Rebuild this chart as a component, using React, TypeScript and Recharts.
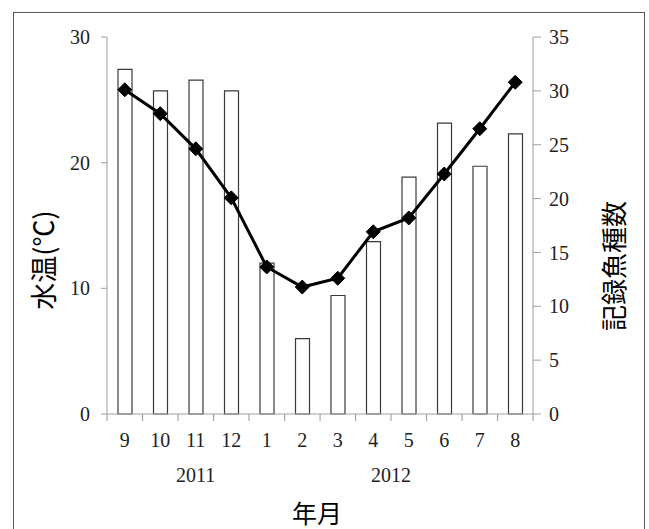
import React from 'react';
import { ComposedChart, Bar, Line, XAxis, YAxis } from 'recharts';

const months = ['9', '10', '11', '12', '1', '2', '3', '4', '5', '6', '7', '8'];
const speciesCount = [32, 30, 31, 30, 14, 7, 11, 16, 22, 27, 23, 26];
const waterTemp = [25.8, 23.9, 21.1, 17.2, 11.7, 10.1, 10.8, 14.5, 15.6, 19.1, 22.7, 26.4];
const tempTicks = [0, 10, 20, 30];
const speciesTicks = [0, 5, 10, 15, 20, 25, 30, 35];
const yearLabels = ['2011', '2012'];
// year label centres, in category units from the left edge of the axis
const yearPositions = [2.5, 8];

const data = months.map((m, i) => ({ month: m, species: speciesCount[i], temp: waterTemp[i] }));

const CHART_W = 649;
const CHART_H = 529;
const LEFT_W = 107;
const RIGHT_W = 116;
const PLOT_W = CHART_W - LEFT_W - RIGHT_W;
const HALF_BAND = PLOT_W / months.length / 2;

const AXIS = '#a0a0a0';
const TICK_FONT = { fontFamily: 'Liberation Serif', fontSize: 20, fill: '#222' };
const CJK = '"Noto Sans CJK JP", sans-serif';

const MonthTick = (props: any) => {
  const { x, y, payload, index } = props;
  const half = HALF_BAND;
  const i = typeof index === 'number' ? index : months.indexOf(String(payload?.value));
  const left = Number(x) - half;
  const right = Number(x) + half;
  const yy = Number(y);
  const years: React.ReactNode[] = [];
  yearPositions.forEach((pos, k) => {
    const idx = Math.floor(pos - 0.5);
    if (idx === i) {
      const cx = Number(x) + (pos - (idx + 0.5)) * 2 * half;
      years.push(
        <text key={`y${k}`} x={cx} y={yy + 68} textAnchor="middle" {...TICK_FONT}>
          {yearLabels[k]}
        </text>
      );
    }
  });
  return (
    <g>
      <rect x={left - 0.5} y={yy} width={1.1} height={7} fill={AXIS} />
      {i === months.length - 1 && <rect x={right - 0.5} y={yy} width={1.1} height={7} fill={AXIS} />}
      <text x={x} y={yy + 33} textAnchor="middle" {...TICK_FONT}>
        {payload.value}
      </text>
      {years}
    </g>
  );
};

const Diamond = (props: any) => {
  const { cx, cy, index } = props;
  if (cx == null || cy == null) return null;
  const r = 7;
  return (
    <path
      key={`d-${index}`}
      d={`M${cx},${cy - r}L${cx + r},${cy}L${cx},${cy + r}L${cx - r},${cy}Z`}
      fill="#000"
      stroke="#000"
    />
  );
};

export default function App() {
  return (
    <div style={{ position: 'fixed', left: 0, top: 0, width: CHART_W, height: CHART_H, overflow: 'hidden', background: '#fff' }}>
      <div
        style={{
          position: 'absolute', left: 13, top: 12, width: 632, height: 600,
          border: '1.5px solid #595959', boxSizing: 'border-box',
        }}
      />
      <div style={{ position: 'absolute', left: 0, top: 0 }}>
        <ComposedChart width={CHART_W} height={CHART_H} data={data} margin={{ top: 37, right: 0, bottom: 0, left: 0 }}>
          <XAxis
            xAxisId="m"
            dataKey="month"
            height={115}
            tickSize={0}
            tickMargin={0}
            axisLine={{ stroke: AXIS }}
            tickLine={false}
            tick={(p: any) => <MonthTick {...p} />}
            interval={0}
          />
          <YAxis
            yAxisId="t"
            orientation="left"
            width={LEFT_W}
            domain={[0, 30]}
            ticks={tempTicks}
            tickSize={6}
            tickMargin={11}
            axisLine={{ stroke: AXIS }}
            tickLine={{ stroke: AXIS }}
            tick={TICK_FONT}
          />
          <YAxis
            yAxisId="s"
            orientation="right"
            width={RIGHT_W}
            domain={[0, 35]}
            ticks={speciesTicks}
            tickSize={8}
            tickMargin={8}
            axisLine={{ stroke: AXIS }}
            tickLine={{ stroke: AXIS }}
            tick={{ ...TICK_FONT, textAnchor: 'start' }}
          />
          <Bar
            xAxisId="m"
            yAxisId="s"
            dataKey="species"
            barSize={14}
            fill="#fff"
            stroke="#3a3a3a"
            strokeWidth={1.2}
            isAnimationActive={false}
          />
          <Line
            xAxisId="m"
            yAxisId="t"
            dataKey="temp"
            type="linear"
            stroke="#000"
            strokeWidth={3}
            dot={<Diamond />}
            activeDot={false}
            isAnimationActive={false}
          />
        </ComposedChart>
      </div>
      <div
        style={{
          position: 'absolute', left: 42, top: 260, transform: 'translate(-50%, -50%) rotate(-90deg)',
          fontFamily: CJK, fontSize: 27, whiteSpace: 'nowrap', color: '#000', lineHeight: 1,
        }}
      >
        水温(℃)
      </div>
      <div
        style={{
          position: 'absolute', left: 613, top: 266, transform: 'translate(-50%, -50%) rotate(-90deg)',
          fontFamily: CJK, fontSize: 26, whiteSpace: 'nowrap', color: '#000', lineHeight: 1,
        }}
      >
        記録魚種数
      </div>
      <div
        style={{
          position: 'absolute', left: 317, top: 512, transform: 'translate(-50%, -50%)',
          fontFamily: CJK, fontSize: 25, whiteSpace: 'nowrap', color: '#000', lineHeight: 1,
        }}
      >
        年月
      </div>
    </div>
  );
}
